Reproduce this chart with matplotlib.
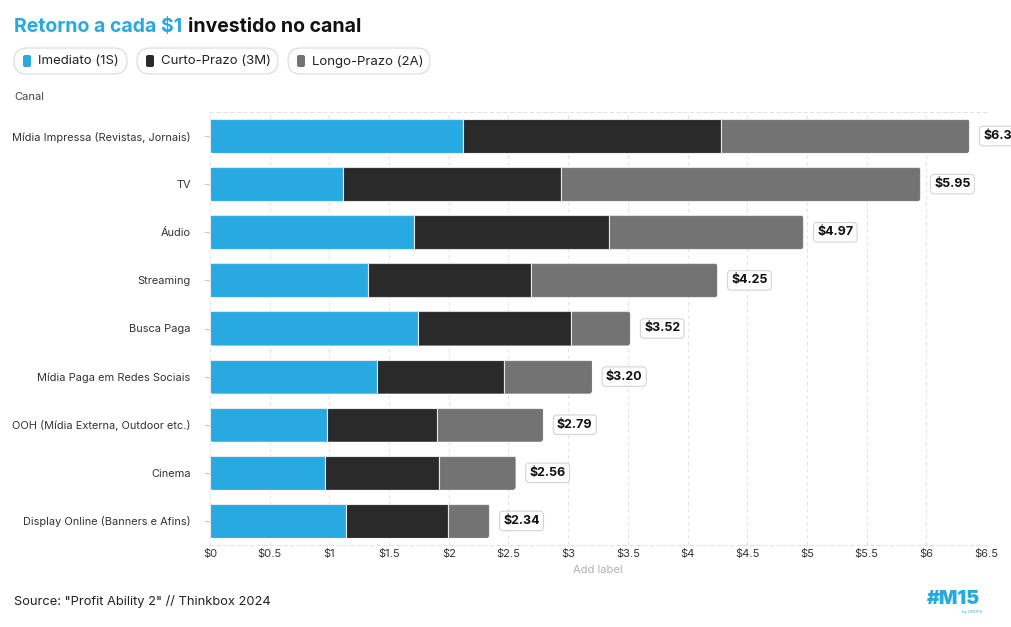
import matplotlib
matplotlib.use('Agg')
import matplotlib.pyplot as plt
from matplotlib.patches import FancyBboxPatch
import numpy as np

plt.rcParams['font.family'] = ['Inter', 'DejaVu Sans']

canais = ['Mídia Impressa (Revistas, Jornais)', 'TV', 'Áudio', 'Streaming', 'Busca Paga',
          'Mídia Paga em Redes Sociais', 'OOH (Mídia Externa, Outdoor etc.)', 'Cinema',
          'Display Online (Banners e Afins)']
imediato = [2.12, 1.11, 1.71, 1.32, 1.74, 1.40, 0.98, 0.96, 1.14]
curto_prazo = [2.16, 1.83, 1.63, 1.37, 1.28, 1.06, 0.92, 0.96, 0.85]
longo_prazo = [2.08, 3.01, 1.63, 1.56, 0.50, 0.74, 0.89, 0.64, 0.35]
series_nomes = ['Imediato (1S)', 'Curto-Prazo (3M)', 'Longo-Prazo (2A)']
cores = ['#29A9E1', '#2A2A2A', '#737373']
xticks = np.arange(0, 6.51, 0.5)

W, H = 1012, 627
fig = plt.figure(figsize=(W / 100, H / 100), dpi=100)
ax = fig.add_axes([210 / W, 1 - 545 / H, 776 / W, 433 / H])

y = np.arange(len(canais))
imediato = np.array(imediato)
curto_prazo = np.array(curto_prazo)
longo_prazo = np.array(longo_prazo)
totais = imediato + curto_prazo + longo_prazo

ax.set_xlim(0, 6.5)
ax.set_ylim(len(canais) - 0.5, -0.5)
bh = 0.71
lefts = np.zeros(len(canais))
grupos = []
for vals, cor in zip([imediato, curto_prazo, longo_prazo], cores):
    b = ax.barh(y, vals, left=lefts, height=bh, color=cor, edgecolor='#e8e8e8', linewidth=0.8, zorder=3)
    grupos.append(b)
    lefts = lefts + vals

# cantos arredondados: recorta cada barra por um retangulo arredondado
px_x = 776 / 6.5
px_y = 433 / 9
r = 3 / px_x
for i in range(len(canais)):
    clip = FancyBboxPatch((0, y[i] - bh / 2), totais[i], bh,
                          boxstyle=f'round,pad=0,rounding_size={r}',
                          mutation_aspect=px_x / px_y, transform=ax.transData,
                          fc='none', ec='none')
    ax.add_patch(clip)
    for b in grupos:
        b[i].set_clip_path(clip)

for i, t in enumerate(totais):
    ax.annotate(f'${t:.2f}', xy=(t, y[i]), xytext=(10, 0), textcoords='offset points',
                ha='left', va='center', fontsize=9, fontweight='bold', color='#111111',
                bbox=dict(boxstyle='round,pad=0.3,rounding_size=0.3', fc='white', ec='#d4d4d4', lw=0.8),
                annotation_clip=False, zorder=5)

ax.set_yticks(y)
ax.set_yticklabels(canais, fontsize=7.9, color='#333333')
ax.set_xticks(xticks)
ax.set_xticklabels([f'${v:g}' for v in xticks], fontsize=8, color='#333333')
ax.tick_params(axis='y', length=4, color='#cccccc', pad=10)
ax.tick_params(axis='x', length=0, pad=3)
ax.grid(axis='x', linestyle=(0, (3, 3)), color='#e2e2e2', linewidth=0.8, zorder=0)
for s in ['left', 'right']:
    ax.spines[s].set_visible(False)
for s in ['top', 'bottom']:
    ax.spines[s].set_linestyle((0, (3, 3)))
    ax.spines[s].set_color('#e2e2e2')
    ax.spines[s].set_linewidth(0.8)
ax.set_xlabel('Add label', fontsize=8, color='#b0b0b0', labelpad=4)

# camada de pixels para titulo, legenda e rodape
ov = fig.add_axes([0, 0, 1, 1], zorder=-1)
ov.set_xlim(0, W)
ov.set_ylim(H, 0)
ov.axis('off')

t1 = ov.text(14, 27, 'Retorno a cada $1', fontsize=14, fontweight='bold', color='#29A9E1', va='center')
fig.canvas.draw()
bb = t1.get_window_extent()
ov.text(14 + bb.width + 6, 27, 'investido no canal', fontsize=14, fontweight='bold', color='#111111', va='center')

pills = [(14, 127), (137, 278), (288, 430)]
for (x0, x1), nome, cor in zip(pills, series_nomes, cores):
    ov.add_patch(FancyBboxPatch((x0, 48), x1 - x0, 26, boxstyle='round,pad=0,rounding_size=13',
                                fc='white', ec='#dddddd', lw=0.9))
    ov.add_patch(FancyBboxPatch((x0 + 9, 55), 8, 12, boxstyle='round,pad=0,rounding_size=2',
                                fc=cor, ec='none'))
    ov.text(x0 + 24, 61.5, nome, fontsize=9.5, color='#222222', va='center')

ov.text(14, 97, 'Canal', fontsize=8, color='#444444', va='center')
ov.text(14, 601, 'Source: "Profit Ability 2" // Thinkbox 2024', fontsize=9.3, color='#222222', va='center')
ov.text(953, 599, '#M15', fontsize=14, fontweight='black', color='#29A9E1', va='center', ha='center')
ov.text(982, 612, 'by DROPS', fontsize=3, color='#29A9E1', va='center', ha='right')

fig.savefig('out.png', dpi=100, facecolor='white')
